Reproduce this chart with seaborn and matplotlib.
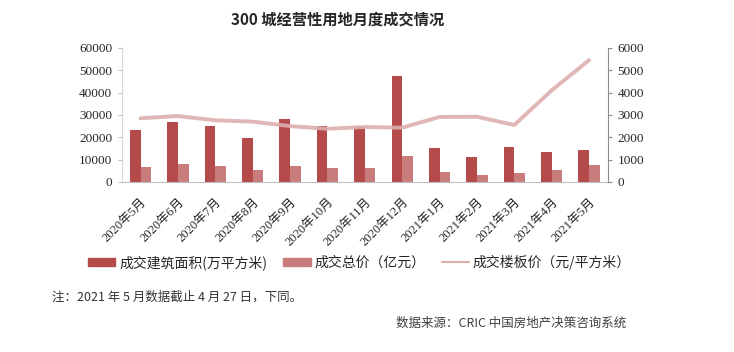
import numpy as np
import pandas as pd
import matplotlib
matplotlib.use("Agg")
import matplotlib.pyplot as plt
import seaborn as sns
from matplotlib.patches import Patch
from matplotlib.lines import Line2D

# ================= DADOS =================
meses = ["2020年5月", "2020年6月", "2020年7月", "2020年8月", "2020年9月",
         "2020年10月", "2020年11月", "2020年12月", "2021年1月", "2021年2月",
         "2021年3月", "2021年4月", "2021年5月"]
area = [23300, 27000, 25000, 19800, 28000, 25000, 24500, 47500,
        15400, 11000, 15800, 13300, 14500]          # 万平方米
total = [6800, 8100, 7000, 5500, 7000, 6100, 6300, 11500,
         4600, 3300, 4000, 5500, 7800]              # 亿元
preco = [2850, 2950, 2760, 2700, 2500, 2380, 2460, 2430,
         2910, 2920, 2550, 4100, 5450]              # 元/平方米

nome_area = "成交建筑面积(万平方米)"
nome_total = "成交总价（亿元）"
nome_preco = "成交楼板价（元/平方米）"

COR_AREA = "#B44A4A"
COR_TOTAL = "#C97C7C"
COR_PRECO = "#DDAEAE"

# ================= FIGURA =================
sns.set_style("white")
plt.rcParams["font.family"] = ["Liberation Serif", "Noto Sans CJK SC"]
CJK = ["Noto Sans CJK SC", "DejaVu Sans"]

df = pd.DataFrame({"mes": meses * 2,
                   "valor": area + total,
                   "serie": [nome_area] * len(meses) + [nome_total] * len(meses)})

fig = plt.figure(figsize=(7.34, 3.52), dpi=100)
ax = fig.add_axes([0.166, 0.483, 0.662, 0.381])

sns.barplot(data=df, x="mes", y="valor", hue="serie", order=meses,
            palette=[COR_AREA, COR_TOTAL], width=0.57, gap=0,
            saturation=1, linewidth=0, legend=False, ax=ax)
ax.set_ylim(0, 60000)
ax.set_yticks(range(0, 60001, 10000))
ax.set_xlim(-0.5, len(meses) - 0.5)
ax.set_xlabel("")
ax.set_ylabel("")

ax2 = ax.twinx()
sns.lineplot(x=np.arange(len(meses)), y=preco, color=COR_PRECO, linewidth=2.8,
             alpha=0.9, ax=ax2)
ax2.set_ylim(0, 6000)
ax2.set_yticks(range(0, 6001, 1000))
ax2.set_xlim(-0.5, len(meses) - 0.5)

# eixos
for a in (ax, ax2):
    a.spines["top"].set_visible(False)
ax.spines["left"].set_color("#D9D9D9")
ax.spines["bottom"].set_color("#BFBFBF")
ax.spines["right"].set_visible(False)
ax2.spines["left"].set_visible(False)
ax2.spines["bottom"].set_visible(False)
ax2.spines["right"].set_color("#8C8C8C")

ax.tick_params(axis="y", direction="out", length=3, color="#BFBFBF",
               labelsize=9.5, pad=4)
ax2.tick_params(axis="y", direction="out", length=3, color="#8C8C8C",
                labelsize=9.5, pad=4)

ax.set_xticks(np.arange(len(meses)))
ax.set_xticklabels(meses, rotation=45, ha="right", rotation_mode="anchor",
                   fontsize=9)
ax.set_xticks(np.arange(len(meses) + 1) - 0.5, minor=True)
ax.tick_params(axis="x", which="major", length=0, pad=10)
ax.tick_params(axis="x", which="minor", length=4, color="#BFBFBF",
               direction="out")

fig.text(0.46, 0.945, "300 城经营性用地月度成交情况", ha="center", va="center",
         fontsize=11, fontweight="bold", family=CJK)

handles = [Patch(color=COR_AREA), Patch(color=COR_TOTAL),
           Line2D([0], [0], color=COR_PRECO, linewidth=1.5)]
fig.legend(handles, [nome_area, nome_total, nome_preco], ncol=3,
           loc="center", bbox_to_anchor=(0.49, 0.255), frameon=False,
           prop={"family": CJK, "size": 10}, handlelength=1.95,
           handleheight=0.5, columnspacing=1.15, handletextpad=0.3)

fig.text(0.071, 0.157, "注：2021 年 5 月数据截止 4 月 27 日，下同。",
         ha="left", va="center", fontsize=9, family=CJK, color="#333333")
fig.text(0.853, 0.083, "数据来源：CRIC 中国房地产决策咨询系统",
         ha="right", va="center", fontsize=9, family=CJK, color="#404040")

fig.savefig("out.png", dpi=100)
